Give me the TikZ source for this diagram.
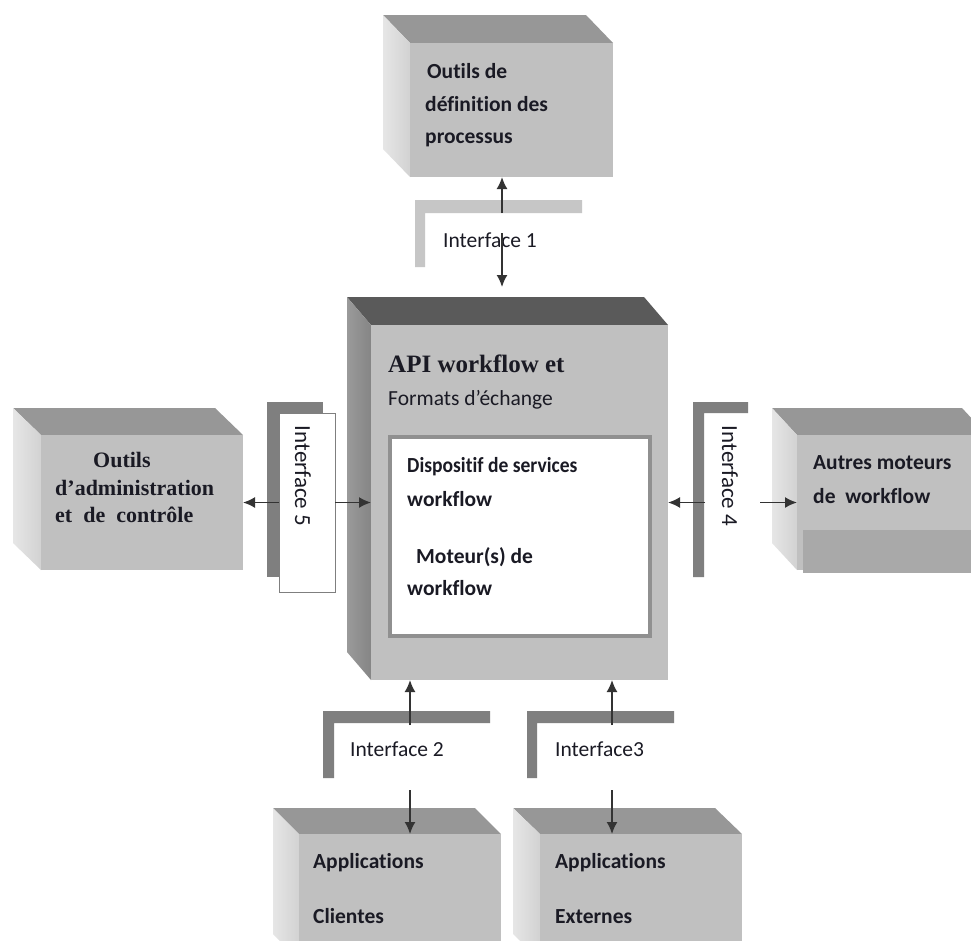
\documentclass[tikz,border=0pt]{standalone}
\usepackage{fontspec}
\setmainfont{Carlito}[Ligatures={NoCommon}]
\newfontfamily\timesfam{Liberation Serif}
\usetikzlibrary{arrows.meta,fit}

\definecolor{facefront}{HTML}{C0C0C0}
\definecolor{facetop}{HTML}{979797}
\definecolor{sidelight}{HTML}{E6E6E6}
\definecolor{sidedark}{HTML}{D2D2D2}
\definecolor{coretop}{HTML}{5A5A5A}
\definecolor{coresidel}{HTML}{9A9A9A}
\definecolor{coresided}{HTML}{858585}
\definecolor{barlight}{HTML}{C6C6C6}
\definecolor{bardark}{HTML}{7F7F7F}
\definecolor{band}{HTML}{A9A9A9}
\definecolor{ink}{HTML}{1A1A24}
\definecolor{arrowc}{HTML}{333333}

% a box seen in perspective: front face node #1 spanning (#2,#3)-(#4,#5),
% depth (#6,#7), top face colour #8, side face shading #9
\newcommand\solidbox[9]{%
  \fill[#8] (#2,#3) -- (#2-#6,#3-#7) -- (#4-#6,#3-#7) -- (#4,#3) -- cycle;
  \shade[#9] (#2,#3) -- (#2-#6,#3-#7) -- (#2-#6,#5-#7) -- (#2,#5) -- cycle;
  \coordinate (#1-nw) at (#2,#3);
  \coordinate (#1-se) at (#4,#5);
  \node[fill=facefront, inner sep=0pt, outer sep=0pt, fit=(#1-nw)(#1-se)] (#1) {};
}

\tikzset{
  lbl/.style={font=\fontsize{21.5}{26}\selectfont\bfseries, text=ink, inner sep=0pt, anchor=base west},
  serifl/.style={font=\timesfam\fontsize{22}{26}\selectfont\bfseries, text=ink, inner sep=0pt, anchor=base west},
  ifl/.style={font=\fontsize{21.5}{26}\selectfont, text=ink, inner sep=0pt, anchor=base west},
  ifv/.style={font=\fontsize{23}{26}\selectfont, text=ink, inner sep=0pt, rotate=-90},
  link/.style={draw=arrowc, line width=1.7pt, -{Latex[length=12pt,width=11pt]}},
  lightside/.style={left color=sidelight, right color=sidedark},
  coreside/.style={left color=coresidel, right color=coresided},
}

\begin{document}
\begin{tikzpicture}[x=1pt,y=-1pt]
\useasboundingbox (0,0) rectangle (971,940);
\fill[white] (0,0) rectangle (971,940);
\clip (0,0) rectangle (971,940);

% ---- boxes ----
\solidbox{topbox}{410}{43}{613}{177}{27}{28}{facetop}{lightside}
\solidbox{core}{371}{325}{668}{680}{24}{28}{coretop}{coreside}
\solidbox{admin}{41}{435}{243}{570}{28}{27}{facetop}{lightside}
\solidbox{engines}{797}{435}{987}{570}{25}{27}{facetop}{lightside}
\fill[band] (803,530) rectangle (987,573);
\solidbox{clients}{299}{834}{501}{960}{26}{26}{facetop}{lightside}
\solidbox{externes}{540}{834}{742}{960}{27}{26}{facetop}{lightside}

% inner frame of the core
\coordinate (inner-nw) at (390,437);
\coordinate (inner-se) at (650,636);
\node[fill=white, draw=band!85!black, line width=4pt, inner sep=0pt, fit=(inner-nw)(inner-se)] (inner) {};

% ---- interface bars ----
\fill[barlight] (415,200) -- (582,200) -- (582,213) -- (425,213) -- (425,267) -- (415,267) -- cycle;
\fill[bardark] (323,711) -- (490,711) -- (490,723) -- (334,723) -- (334,778) -- (323,778) -- cycle;
\fill[bardark] (527,711) -- (674,711) -- (674,723) -- (537,723) -- (537,778) -- (527,778) -- cycle;
\fill[bardark] (693,402) -- (748,402) -- (748,413) -- (704,413) -- (704,577) -- (693,577) -- cycle;
\fill[bardark] (267,402) rectangle (323,577);
\coordinate (if5-nw) at (279,413);
\coordinate (if5-se) at (335,592);
\node[fill=white, draw=bardark, line width=0.8pt, inner sep=0pt, outer sep=0pt, fit=(if5-nw)(if5-se)] (if5) {};

% ---- texts ----
\node[lbl] (t1a) at (427,78) {Outils de};
\node[lbl] (t1b) at (425,111) {définition des};
\node[lbl] (t1c) at (425,143) {processus};

\node[serifl, font=\timesfam\fontsize{25}{30}\selectfont\bfseries] (c1) at (388,372) {API workflow et};
\node[ifl] (c2) at (388,405) {Formats d’échange};
\node[lbl] (c3) at (407,472) {\scalebox{0.91}[1]{Dispositif de services}};
\node[lbl] (c4) at (407,506) {workflow};
\node[lbl] (c5) at (416,563) {Moteur(s) de};
\node[lbl] (c6) at (407,595) {workflow};

\node[serifl] (a1) at (93,467) {Outils};
\node[serifl] (a2) at (55,495) {d’administration};
\node[serifl] (a3) at (55,522) {et\ \ de\ \ contrôle};

\node[lbl] (e1) at (813,469) {Autres moteurs};
\node[lbl] (e2) at (813,503) {de\ \ workflow};

\node[lbl] (k1) at (313,868) {Applications};
\node[lbl] (k2) at (313,923) {Clientes};
\node[lbl] (x1) at (555,868) {Applications};
\node[lbl] (x2) at (555,923) {Externes};

\node[ifl] (l1) at (443,247) {Interface 1};
\node[ifl] (l2) at (350,756) {Interface 2};
\node[ifl] (l3) at (555,756) {Interface3};
\node[ifv] (l5) at (303,476) {Interface 5};
\node[ifv] (l4) at (730,476) {Interface 4};

% ---- connectors ----
\coordinate (if1up) at (502,213);
\coordinate (if1dn) at (502,233);
\coordinate (coretopin) at (502,287);
\draw[link] (if1up) -- (if1up |- topbox.south);
\draw[link] (if1dn) -- (coretopin);

\draw[link] (if5.west) -- (admin.east);
\draw[link] (if5.east) -- (core.west);

\coordinate (if4l) at (705,502.5);
\coordinate (if4r) at (760,502.5);
\draw[link] (if4l) -- (core.east);
\draw[link] (if4r) -- (engines.west);

\coordinate (if2up) at (410,725);
\coordinate (if2dn) at (410,790);
\draw[link] (if2up) -- (if2up |- core.south);
\draw[link] (if2dn) -- (if2dn |- clients.north);

\coordinate (if3up) at (612,725);
\coordinate (if3dn) at (612,790);
\draw[link] (if3up) -- (if3up |- core.south);
\draw[link] (if3dn) -- (if3dn |- externes.north);
\end{tikzpicture}
\end{document}
